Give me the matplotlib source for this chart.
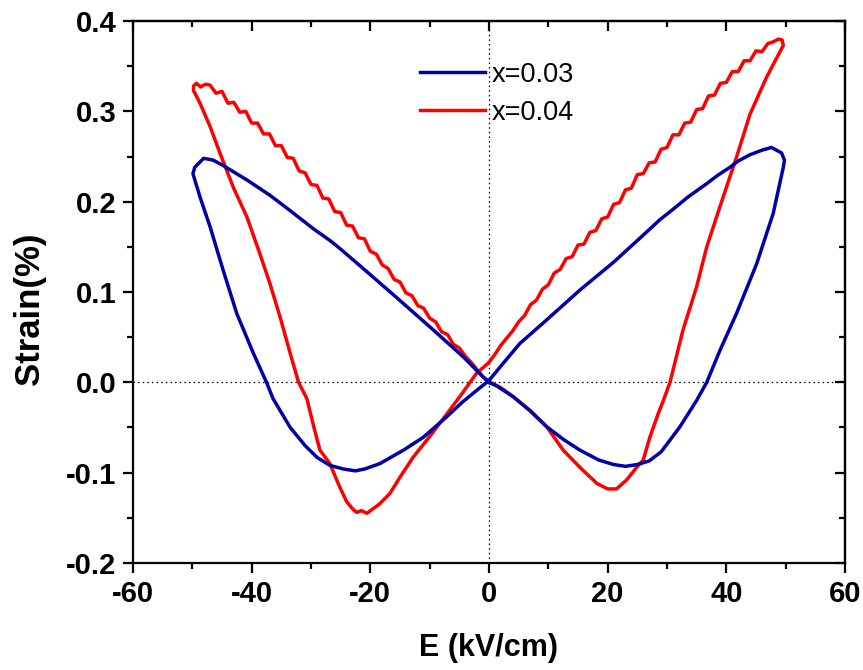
import matplotlib
matplotlib.use("Agg")
import matplotlib.pyplot as plt
from matplotlib.ticker import MultipleLocator, FormatStrFormatter

# ---------------- data ----------------
# x = 0.03 loop (blue), traversed from origin -> +E -> back -> -E -> back
e_003 = [0, 1.3, 4.1, 7.0, 9.7, 12.5, 15.3, 18.5, 21.0, 23.0, 25.0, 27.0, 29.0, 30.5, 32.2,
         35.0, 36.7, 38.9, 41.7, 45.1, 47.9, 49.6,
         49.8, 49.3, 47.6, 46.0, 44.0, 42.0, 40.6, 38.5, 36.7, 33.5, 31.1, 28.8, 25.5, 21.0,
         15.3, 9.7, 5.2, 2.0, 0.0,
         -2.1, -4.5, -7.1, -11.1, -14.4, -18.4, -21.0, -22.5, -24.5, -26.8, -29.0, -31.0,
         -33.5, -36.4, -37.5, -39.7, -42.5, -44.8, -47.0, -48.7, -49.9,
         -49.6, -48.1, -46.5, -44.8, -42.8, -40.8, -36.9, -33.5, -29.6, -26.8, -25.1, -21.2,
         -15.6, -9.9, -4.3, -1.0, 0.0]
s_003 = [0, -0.004, -0.016, -0.032, -0.049, -0.063, -0.075, -0.086, -0.091, -0.093, -0.091,
         -0.087, -0.077, -0.064, -0.049, -0.020, 0.0, 0.035, 0.076, 0.131, 0.187, 0.238,
         0.246, 0.254, 0.260, 0.257, 0.252, 0.245, 0.238, 0.229, 0.220, 0.205, 0.192, 0.180,
         0.160, 0.133, 0.102, 0.069, 0.043, 0.018, 0.002,
         -0.009, -0.022, -0.038, -0.061, -0.075, -0.090, -0.096, -0.098, -0.096, -0.092,
         -0.083, -0.070, -0.050, -0.018, 0.0, 0.032, 0.076, 0.124, 0.172, 0.205, 0.231,
         0.238, 0.248, 0.246, 0.240, 0.232, 0.224, 0.207, 0.190, 0.170, 0.157, 0.148, 0.126,
         0.094, 0.061, 0.028, 0.006, 0.0]

# x = 0.04 loop (red)
e_004 = [0.2, 2.0, 4.1, 6.9, 9.7, 12.5, 15.3, 18.2, 20.0, 21.5, 23.2, 24.9, 26.0, 27.1, 28.5,
         29.4, 30.5, 32.7, 35.0, 36.7, 38.9, 41.7, 44.0, 46.8, 49.6,
         49.4, 48.8, 47.9,
         47, 46, 45, 44, 43, 42, 41, 40, 39, 38, 37, 36, 35, 34, 33, 32, 31, 30, 29, 28, 27,
         26, 25, 24, 23, 22, 21, 20, 19, 18, 17, 16, 15, 14, 13, 12, 11, 10, 9, 8, 7, 6, 5,
         4, 3, 2, 1, 0,
         -2.1, -4.5, -7.1, -10.0, -12.8, -15.0, -16.7, -18.5, -20.6, -21.5, -22.3, -23.0,
         -24.0, -25.0, -26.0, -26.8, -28.5, -29.5, -30.7, -32.1, -33.5, -35.2, -36.9, -38.6,
         -40.8, -43.1, -45.3, -47.0, -48.7, -49.8,
         -49.8, -49.3, -48.6, -47.8,
         -47, -46, -45, -44, -43, -42, -41, -40, -39, -38, -37, -36, -35, -34, -33, -32, -31,
         -30, -29, -28, -27, -26, -25, -24, -23, -22, -21, -20, -19, -18, -17, -16, -15, -14,
         -13, -12, -11, -10, -9, -8, -7, -6, -5, -4, -3, -2, -1, 0.2]
s_004 = [0.0, -0.006, -0.016, -0.031, -0.049, -0.075, -0.094, -0.112, -0.118, -0.118, -0.108,
         -0.094, -0.086, -0.061, -0.035, -0.020, 0.0, 0.058, 0.106, 0.150, 0.194, 0.249, 0.297,
         0.338, 0.373,
         0.379, 0.380, 0.377,
         0.375, 0.366, 0.367, 0.356, 0.356, 0.344, 0.344, 0.332, 0.331, 0.318, 0.317, 0.303,
         0.302, 0.288, 0.287, 0.274, 0.274, 0.260, 0.258, 0.244, 0.243, 0.231, 0.230, 0.215,
         0.213, 0.199, 0.197, 0.183, 0.181, 0.168, 0.166, 0.153, 0.152, 0.139, 0.137, 0.125,
         0.121, 0.108, 0.103, 0.091, 0.086, 0.074, 0.067, 0.057, 0.049, 0.041, 0.031, 0.022,
         0.010, -0.012, -0.035, -0.060, -0.083, -0.105, -0.123, -0.135, -0.145, -0.142, -0.144,
         -0.140, -0.132, -0.118, -0.103, -0.090, -0.075, -0.050, -0.018, 0.0, 0.032, 0.072,
         0.109, 0.142, 0.183, 0.216, 0.253, 0.283, 0.309, 0.323,
         0.328, 0.331, 0.327, 0.330,
         0.329, 0.320, 0.322, 0.309, 0.310, 0.299, 0.300, 0.287, 0.287, 0.275, 0.275, 0.262,
         0.262, 0.249, 0.248, 0.234, 0.232, 0.219, 0.218, 0.204, 0.203, 0.189, 0.188, 0.174,
         0.173, 0.160, 0.159, 0.145, 0.142, 0.130, 0.126, 0.114, 0.111, 0.099, 0.096, 0.085,
         0.082, 0.071, 0.067, 0.056, 0.053, 0.042, 0.038, 0.029, 0.022, 0.014, 0.006, 0.0]

labels = ["x=0.03", "x=0.04"]
colors = ["#0000A8", "#FF0000"]
x_ticks = [-60, -40, -20, 0, 20, 40, 60]
y_ticks = [-0.2, -0.1, 0.0, 0.1, 0.2, 0.3, 0.4]

# ---------------- figure ----------------
plt.rcParams['font.family'] = ['Liberation Sans', 'DejaVu Sans']
plt.rcParams['axes.unicode_minus'] = False

fig = plt.figure(figsize=(8.63, 6.70), dpi=100)
ax = fig.add_axes([133 / 863, 1 - 563 / 670, 712 / 863, 542 / 670])

ax.axhline(0, color='black', lw=0.9, ls=(0, (1.2, 2.5)), zorder=1)
ax.axvline(0, color='black', lw=0.9, ls=(0, (1.2, 2.5)), zorder=1)

ax.plot(e_003, s_003, color=colors[0], lw=2.5, label=labels[0], zorder=3,
        solid_joinstyle='round')
ax.plot(e_004, s_004, color=colors[1], lw=2.5, label=labels[1], zorder=2,
        solid_joinstyle='round')

ax.set_xlim(-60, 60)
ax.set_ylim(-0.2, 0.4)
ax.set_xticks(x_ticks)
ax.set_yticks(y_ticks)
ax.xaxis.set_minor_locator(MultipleLocator(10))
ax.yaxis.set_minor_locator(MultipleLocator(0.05))
ax.yaxis.set_major_formatter(FormatStrFormatter('%.1f'))

for sp in ax.spines.values():
    sp.set_linewidth(1.6)

ax.tick_params(axis='both', which='major', direction='out', length=7.5, width=1.6,
               labelsize=21)
ax.tick_params(axis='both', which='minor', direction='out', length=4, width=1.6)
ax.tick_params(axis='x', which='major', pad=5)
ax.tick_params(axis='y', which='major', pad=4.5)
for lab in ax.get_xticklabels() + ax.get_yticklabels():
    lab.set_fontweight('bold')

# top / right ticks pointing inward
secx = ax.secondary_xaxis('top')
secx.set_xticks(x_ticks)
secx.xaxis.set_minor_locator(MultipleLocator(10))
secx.tick_params(which='major', direction='in', length=7.5, width=1.6, labeltop=False)
secx.tick_params(which='minor', direction='in', length=4, width=1.6)
secx.spines['top'].set_linewidth(1.6)
secy = ax.secondary_yaxis('right')
secy.set_yticks(y_ticks)
secy.yaxis.set_minor_locator(MultipleLocator(0.05))
secy.tick_params(which='major', direction='in', length=7.5, width=1.6, labelright=False)
secy.tick_params(which='minor', direction='in', length=4, width=1.6)
secy.spines['right'].set_linewidth(1.6)

ax.set_xlabel('E (kV/cm)', fontsize=22, fontweight='bold', va='center', ha='center')
ax.xaxis.set_label_coords(0.4986, -0.157)
ax.set_ylabel('Strain(%)', fontsize=25, fontweight='bold', va='center', ha='center')
ax.yaxis.set_label_coords(-0.146, 0.470)

ax.legend(loc='upper left', bbox_to_anchor=(0.403, 0.925), frameon=False,
          fontsize=19.5, handlelength=2.4, handletextpad=0.26, labelspacing=0.45,
          borderpad=0, borderaxespad=0)

fig.savefig('out.png', dpi=100, facecolor='white')
